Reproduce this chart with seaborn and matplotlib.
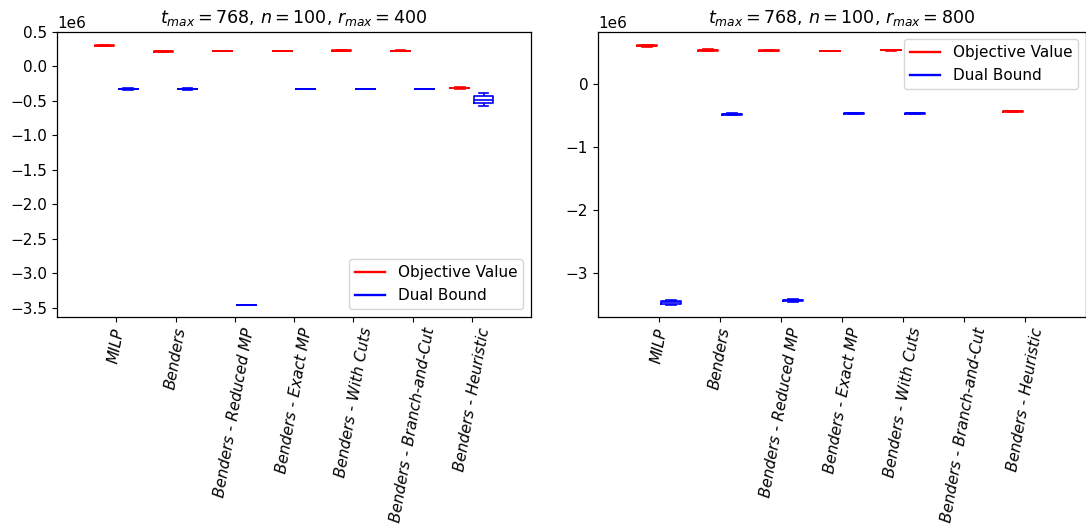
import numpy as np
import pandas as pd
import matplotlib
matplotlib.use('Agg')
import matplotlib.pyplot as plt
from matplotlib.lines import Line2D
import seaborn as sns

# methods compared (x axis)
methods = ['MILP', 'Benders', 'Benders - Reduced MP', 'Benders - Exact MP',
           'Benders - With Cuts', 'Benders - Branch-and-Cut', 'Benders - Heuristic']

# r_max = 400 : objective values / dual bounds per method (several runs each)
obj_400 = [
    [292000, 297000, 300000, 303000, 308000],
    [210000, 215000, 218000, 221000, 226000],
    [230000, 230000, 230000, 230000, 230000],
    [221000, 222000, 222000, 222000, 223000],
    [225000, 228000, 230000, 232000, 235000],
    [220000, 224000, 227000, 230000, 234000],
    [-324000, -318000, -314000, -310000, -304000],
]
dual_400 = [
    [-338000, -332000, -328000, -324000, -318000],
    [-338000, -332000, -328000, -324000, -318000],
    [-3455000, -3455000, -3455000, -3455000, -3455000],
    [-335000, -330000, -328000, -326000, -321000],
    [-335000, -330000, -328000, -326000, -321000],
    [-328000, -328000, -328000, -328000, -328000],
    [-579000, -535000, -482000, -424000, -386000],
]

# r_max = 800
obj_800 = [
    [590000, 600000, 608000, 615000, 625000],
    [520000, 530000, 535000, 540000, 550000],
    [520000, 528000, 532000, 536000, 544000],
    [528000, 530000, 530000, 530000, 532000],
    [530000, 535000, 538000, 541000, 546000],
    [],
    [-445000, -437000, -432000, -427000, -419000],
]
dual_800 = [
    [-3500000, -3480000, -3455000, -3440000, -3420000],
    [-490000, -482000, -476000, -470000, -462000],
    [-3450000, -3435000, -3425000, -3415000, -3400000],
    [-475000, -469000, -466000, -463000, -457000],
    [-475000, -469000, -466000, -463000, -457000],
    [],
    [],
]

kinds = ['Objective Value', 'Dual Bound']
colors = {'Objective Value': 'red', 'Dual Bound': 'blue'}


def to_long(obj, dual):
    rows = []
    for m, vals in zip(methods, obj):
        rows += [(m, 'Objective Value', v) for v in vals]
    for m, vals in zip(methods, dual):
        rows += [(m, 'Dual Bound', v) for v in vals]
    return pd.DataFrame(rows, columns=['method', 'kind', 'value'])


plt.rcParams['font.size'] = 11
plt.rcParams['axes.linewidth'] = 0.9

fig = plt.figure(figsize=(10.86, 5.29), dpi=100)
ax1 = fig.add_axes([0.0525, 0.401, 0.4365, 0.539])
ax2 = fig.add_axes([0.5506, 0.401, 0.4494, 0.539])

panels = [
    (ax1, to_long(obj_400, dual_400), 400, (-3.63e6, 0.502e6), 'lower right'),
    (ax2, to_long(obj_800, dual_800), 800, (-3.69e6, 0.83e6), 'upper right'),
]

for ax, df, r, ylim, loc in panels:
    sns.boxplot(data=df, x='method', y='value', hue='kind', order=methods,
                hue_order=kinds, palette=colors, fill=False, gap=0.2,
                whis=(0, 100), linewidth=1.2, ax=ax, legend=False)
    ax.set_xlim(-1, 7)
    ax.set_ylim(*ylim)
    ax.set_xlabel('')
    ax.set_ylabel('')
    ax.set_title(r'$t_{max} = 768$, $n = 100$, $r_{max} = %d$' % r, fontsize=12.6)
    ax.tick_params(axis='both', labelsize=11)
    ax.tick_params(axis='x', labelrotation=80)
    for lbl in ax.get_xticklabels():
        lbl.set_style('italic')
    handles = [Line2D([0], [0], color=colors[k], lw=1.7) for k in kinds]
    ax.legend(handles, kinds, loc=loc, fontsize=11)

fig.savefig('out.png', dpi=100)
